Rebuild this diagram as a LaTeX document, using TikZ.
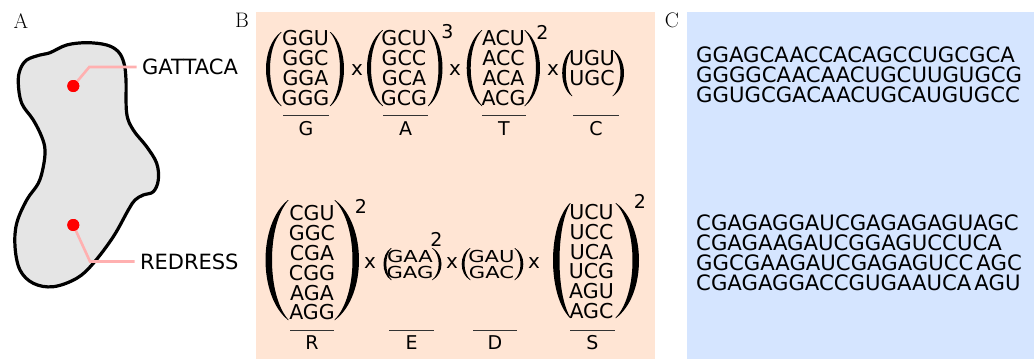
\documentclass[tikz,border=0pt]{standalone}
\usepackage{fontspec}
\usepackage{graphicx}
\newfontfamily\dv{DejaVu Sans}
\definecolor{peach}{RGB}{255,229,212}
\definecolor{paleblue}{RGB}{213,229,255}
\definecolor{blobgray}{RGB}{229,229,229}
\definecolor{pinkln}{RGB}{255,176,176}
\newcommand\mkparen[6]{%
 \fill ({#2},{#3}) .. controls ({#2+(#1)*1.333*(#5)},{#3+0.2*(#4-#3)}) and ({#2+(#1)*1.333*(#5)},{#4-0.2*(#4-#3)}) .. ({#2},{#4})
 -- ({#2-(#1)*0.7},{#4}) .. controls ({#2-(#1)*0.7+(#1)*1.333*(#5-#6+0.7)},{#4-0.2*(#4-#3)}) and ({#2-(#1)*0.7+(#1)*1.333*(#5-#6+0.7)},{#3+0.2*(#4-#3)}) .. ({#2-(#1)*0.7},{#3}) -- cycle;}
\tikzset{
 panellab/.style={font=\fontsize{21}{21}\selectfont, inner sep=0pt},
 cod/.style={font=\dv\fontsize{20.5}{19.8}\selectfont, inner sep=0pt, align=center},
 codsmall/.style={font=\dv\fontsize{16.5}{16.5}\selectfont, inner sep=0pt},
 times/.style={font=\dv\fontsize{20}{20}\selectfont, inner sep=0pt},
 expo/.style={font=\dv\fontsize{19}{19}\selectfont, inner sep=0pt},
 aalab/.style={font=\dv\fontsize{19}{19}\selectfont, inner sep=0pt},
 uline/.style={line width=1pt, black!80},
 seq/.style={font=\dv\fontsize{21.2}{20}\selectfont, inner sep=0pt, align=left, anchor=west},
 dot/.style={circle, fill=red, inner sep=0pt, minimum size=12pt},
 pinkline/.style={pinkln, line width=2.6pt},
 wordlab/.style={font=\dv\fontsize{21}{21}\selectfont, inner xsep=5.3pt, inner ysep=0pt, anchor=west}
}
\begin{document}
\begin{tikzpicture}[x=1pt,y=-1pt]
\useasboundingbox (0,0) rectangle (1036,359);
% backgrounds
\fill[peach] (256,12) rectangle (655,359);
\fill[paleblue] (687,12) rectangle (1034,359);
% panel labels
\node[panellab] (labA) at (21,21) {A};
\node[panellab] (labB) at (242,20) {B};
\node[panellab] (labC) at (672,20) {C};
% ---------- Panel A ----------
\draw[line width=3.2pt, fill=blobgray] plot[smooth cycle, tension=0.6] coordinates {
 (26.7,60) (40,55) (50,52.7) (66.7,45) (86.7,42.7) (106.7,45) (118.3,51.7) (124,63.3)
 (126,80) (126.7,113.3) (133.3,130) (146.7,146.7) (156.7,163.3) (158.3,180) (153.3,191.7)
 (143.3,195) (135,200) (128.3,210) (113.3,236.7) (93.3,263.3) (76.7,278.3) (53.3,286.7)
 (33.3,283.3) (20,270) (15,246.7) (16.7,223.3) (26.7,200) (38.3,183.3) (43.3,166.7)
 (45,150) (41.7,136.7) (33.3,120) (21.7,103.3) (18.3,83.3) (20,70)};
\node[wordlab] (gat) at (136.7,67) {GATTACA};
\node[wordlab] (red) at (134.5,261.5) {REDRESS};
\coordinate (k1) at (89.3,67);
\coordinate (k2) at (90,261.5);
\node[dot] (d1) at (73.3,86) {};
\node[dot] (d2) at (73.3,225) {};
\draw[pinkline] (d1.center) -- (k1) -- (gat.west);
\draw[pinkline] (d2.center) -- (k2) -- (red.west);
\node[dot] at (d1.center) {};
\node[dot] at (d2.center) {};
% ---------- Panel B top row ----------
\node[cod] (cG) at (305.5,68) {GGU\\GGC\\GGA\\GGG};
\mkparen{-1}{281}{32}{106}{15}{4}
\mkparen{1}{330.5}{32}{106}{13.5}{4}
\node[times] (x1) at (357,70) {x};
\node[cod] (cA) at (404,68) {GCU\\GCC\\GCA\\GCG};
\mkparen{-1}{382.5}{30}{106}{15.5}{4}
\mkparen{1}{428.5}{30}{106}{14}{4}
\node[expo] (e3) at (447.5,32) {3};
\node[times] (x2) at (455,70) {x};
\node[cod] (cT) at (503.5,68) {ACU\\ACC\\ACA\\ACG};
\mkparen{-1}{481.7}{30}{106}{15}{4}
\mkparen{1}{525}{30}{106}{15}{4}
\node[expo] (e2a) at (542.5,32) {2};
\node[times] (x3) at (553,70) {x};
\node[cod] (cC) at (592,68) {UGU\\UGC};
\mkparen{-1}{571.7}{50}{96}{9.5}{3.6}
\mkparen{1}{613}{50}{96}{11}{3.6}
\draw[uline] (283,115) -- (329,115);
\draw[uline] (383,115) -- (428,115);
\draw[uline] (482,115) -- (526,115);
\draw[uline] (573,115) -- (619,115);
\node[aalab] (lG) at (306,128.5) {G};
\node[aalab] (lA) at (405.5,128.5) {A};
\node[aalab] (lT) at (504,128.5) {T};
\node[aalab] (lC) at (596,128.5) {C};
% ---------- Panel B bottom row ----------
\node[cod] (cR) at (312,263) {CGU\\GGC\\CGA\\CGG\\AGA\\AGG};
\mkparen{-1}{288}{200}{320}{22.5}{6.5}
\mkparen{1}{335}{200}{320}{24}{6.5}
\node[expo] (e2b) at (361,206) {2};
\node[times] (x4) at (370,263) {x};
\node[codsmall] (cE1) at (410,256) {\scalebox{1.28}[1]{GAA}};
\node[codsmall] (cE2) at (410,272) {\scalebox{1.28}[1]{GAG}};
\mkparen{-1}{391}{248}{280}{7.5}{2.8}
\mkparen{1}{432.5}{248}{280}{9}{2.8}
\node[expo] (e2c) at (436.5,239) {2};
\node[times] (x5) at (452,263) {x};
\node[codsmall] (cD1) at (491.5,256) {\scalebox{1.28}[1]{GAU}};
\node[codsmall] (cD2) at (491.5,272) {\scalebox{1.28}[1]{GAC}};
\mkparen{-1}{470}{248}{280}{8.3}{2.8}
\mkparen{1}{515}{248}{280}{8.3}{2.8}
\node[times] (x6) at (534,263) {x};
\node[cod] (cS) at (591.5,261.5) {UCU\\UCC\\UCA\\UCG\\AGU\\AGC};
\mkparen{-1}{570}{203}{318}{17}{6.5}
\mkparen{1}{616}{203}{318}{23}{6.5}
\node[expo] (e2d) at (640,201.5) {2};
\draw[uline] (290,330) -- (334,330);
\draw[uline] (389,330) -- (434,330);
\draw[uline] (473,330) -- (517,330);
\draw[uline] (570,330) -- (615,330);
\node[aalab] (lR) at (312,343) {R};
\node[aalab] (lE) at (411.5,343) {E};
\node[aalab] (lD) at (495,343) {D};
\node[aalab] (lS) at (592.5,343) {S};
% ---------- Panel C ----------
\node[seq] (s1) at (696,75) {GGAGCAACCACAGCCUGCGCA\\GGGGCAACAACUGCUUGUGCG\\GGUGCGACAACUGCAUGUGCC};
\node[seq] (s2) at (696,252.5) {CGAGAGGAUCGAGAGAGUAGC\\CGAGAAGAUCGGAGUCCUCA\\GGCGAAGAUCGAGAGUCC\hspace{3pt}AGC\\CGAGAGGACCGUGAAUCA\hspace{3pt}AGU};
\end{tikzpicture}
\end{document}
